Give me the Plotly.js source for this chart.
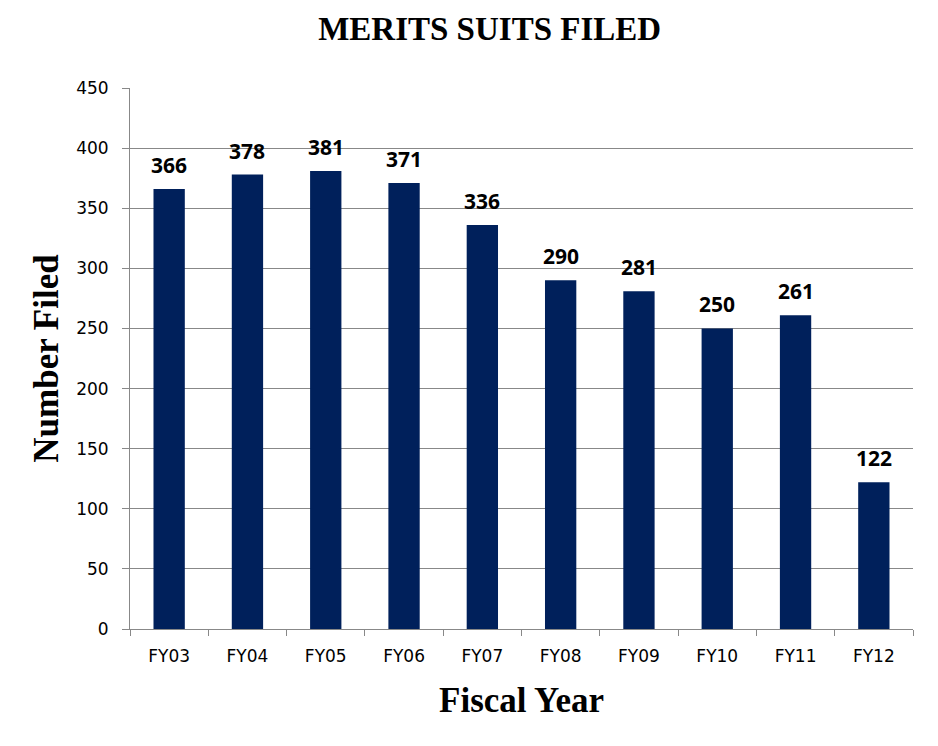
<!DOCTYPE html>
<html><head><meta charset="utf-8">
<script src="https://cdn.plot.ly/plotly-3.0.1.min.js"></script>
<style>body{margin:0;padding:0;background:#fff}#chart{width:938px;height:746px}</style>
</head><body><div id="chart"></div>
<script>
const categories = ["FY03","FY04","FY05","FY06","FY07","FY08","FY09","FY10","FY11","FY12"];
const filed = [366,378,381,371,336,290,281,250,261,122];
const yTicks = [0,50,100,150,200,250,300,350,400,450];

const trace = {
  type: 'bar', x: categories, y: filed,
  marker: {color: '#00205B'},
  width: 0.4,
  hoverinfo: 'none'
};
const labels = categories.map((c, i) => ({
  x: c, y: filed[i], xref: 'x', yref: 'y', text: String(filed[i]),
  showarrow: false, yanchor: 'bottom', yshift: 8,
  font: {family: 'Open Sans, DejaVu Sans, sans-serif', size: 21, color: '#000', weight: 'bold'}
}));
const layout = {
  width: 938, height: 746,
  margin: {l: 130, r: 25, t: 88, b: 117},
  paper_bgcolor: '#fff', plot_bgcolor: '#fff',
  showlegend: false,
  annotations: labels,
  title: {text: 'MERITS SUITS FILED', x: 0.522, xanchor: 'center', y: 0.962, yanchor: 'middle',
    font: {family: 'Liberation Serif, serif', size: 33, color: '#000', weight: 'bold'}},
  xaxis: {
    type: 'category', tickson: 'boundaries', ticks: 'outside', ticklen: 6, tickcolor: '#888',
    showline: true, linecolor: '#888', linewidth: 1, ticklabelstandoff: 12,
    tickfont: {family: 'DejaVu Sans, sans-serif', size: 17, color: '#000'},
    title: {text: 'Fiscal Year', standoff: 22, font: {family: 'Liberation Serif, serif', size: 35, color: '#000', weight: 'bold'}}
  },
  yaxis: {
    range: [0, 450], tickvals: yTicks, ticktext: yTicks.map(String),
    ticks: 'outside', ticklen: 7, tickcolor: '#888', ticklabelstandoff: 10,
    showline: true, linecolor: '#888', linewidth: 1,
    showgrid: true, gridcolor: '#888', gridwidth: 1, zeroline: false,
    tickfont: {family: 'DejaVu Sans, sans-serif', size: 17, color: '#000'},
    title: {text: 'Number Filed', standoff: 6, font: {family: 'Liberation Serif, serif', size: 35, color: '#000', weight: 'bold'}}
  }
};
Plotly.newPlot('chart', [trace], layout, {displayModeBar: false, staticPlot: true});
</script></body></html>
